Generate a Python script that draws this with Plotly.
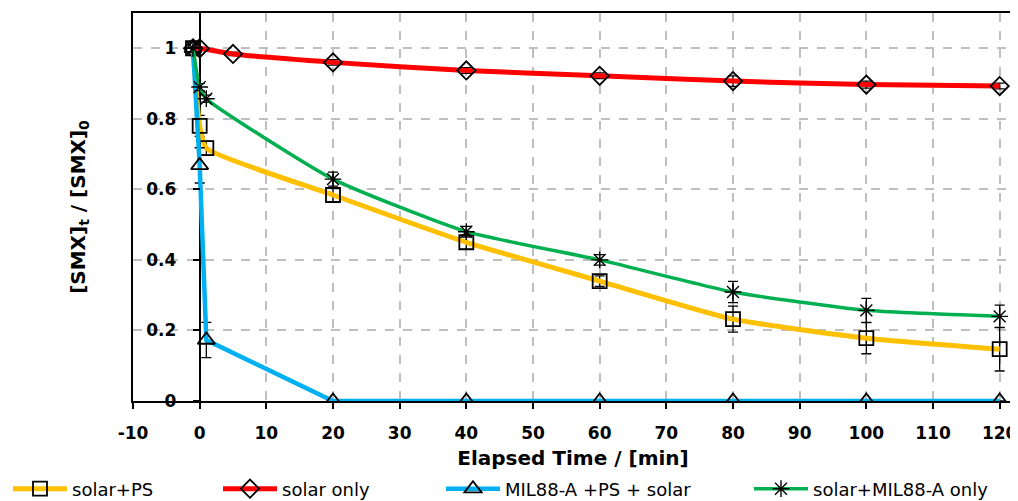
import plotly.graph_objects as go

# ---- data ----
ps_x = [-1, 0, 1, 20, 40, 60, 80, 100, 120]
ps_y = [1.0, 0.78, 0.717, 0.584, 0.45, 0.34, 0.232, 0.178, 0.147]
ps_err = [0, 0.03, 0.02, 0.02, 0.02, 0.015, 0.037, 0.044, 0.062]

solar_x = [-1, 0, 5, 20, 40, 60, 80, 100, 120]
solar_y = [1.0, 1.0, 0.984, 0.96, 0.937, 0.922, 0.907, 0.897, 0.893]
solar_err = [0, 0, 0.005, 0.008, 0.008, 0.008, 0.015, 0.01, 0.008]

mil_ps_x = [-1, 0, 1, 20, 40, 60, 80, 100, 120]
mil_ps_y = [1.0, 0.668, 0.173, 0, 0, 0, 0, 0, 0]
mil_ps_err = [0, 0.05, 0.05, 0, 0, 0, 0, 0, 0]

mil_x = [-1, 0, 1, 20, 40, 60, 80, 100, 120]
mil_y = [1.0, 0.89, 0.857, 0.629, 0.48, 0.40, 0.309, 0.257, 0.24]
mil_err = [0, 0.01, 0.01, 0.02, 0.015, 0.015, 0.03, 0.034, 0.032]

x_ticks = list(range(-10, 121, 10))
x_tick_text = [str(v) for v in x_ticks]  # plain hyphen for "-10"
y_ticks = [0, 0.2, 0.4, 0.6, 0.8, 1]
y_tick_text = ["0", "0.2", "0.4", "0.6", "0.8", "1"]

FONT = "DejaVu Sans"
W, H = 1010, 493  # page body adds an 8px margin

def err(arr):
    return dict(type="data", array=arr, visible=True, color="black",
                thickness=1.3, width=5)

fig = go.Figure()
fig.add_trace(go.Scatter(
    x=ps_x, y=ps_y, name="solar+PS", mode="lines+markers", legend="legend",
    line=dict(color="#FFC000", width=5, shape="spline", smoothing=0.5),
    marker=dict(symbol="square-open", size=14, color="black", line=dict(width=1.8)),
    error_y=err(ps_err)))
fig.add_trace(go.Scatter(
    x=solar_x, y=solar_y, name="solar only", mode="lines+markers", legend="legend2",
    line=dict(color="#FF0000", width=5, shape="spline", smoothing=0.5),
    marker=dict(symbol="diamond-open", size=14, color="black", line=dict(width=1.8)),
    error_y=err(solar_err)))
fig.add_trace(go.Scatter(
    x=mil_ps_x, y=mil_ps_y, name="MIL88-A +PS + solar", mode="lines+markers",
    legend="legend3",
    line=dict(color="#00B0F0", width=4.5),
    marker=dict(symbol="triangle-up-open", size=15, color="black", line=dict(width=1.8)),
    error_y=err(mil_ps_err)))
fig.add_trace(go.Scatter(
    x=mil_x, y=mil_y, name="solar+MIL88-A only", mode="lines+markers",
    legend="legend4",
    line=dict(color="#00B050", width=3.5, shape="spline", smoothing=0.5),
    marker=dict(symbol="asterisk-open", size=14, color="black", line=dict(width=1.4)),
    error_y=err(mil_err)))

# dummy invisible trace to activate yaxis2
fig.add_trace(go.Scatter(x=[None], y=[None], yaxis="y2", showlegend=False,
                         hoverinfo="skip"))

def leg(xpx):
    return dict(orientation="h", xref="container", yref="container",
                x=xpx / W, y=12 / H, xanchor="left", yanchor="middle",
                itemwidth=54,
                font=dict(family=FONT, size=18, color="black"),
                bgcolor="rgba(0,0,0,0)")

fig.update_layout(
    width=W, height=H,
    margin=dict(l=125, r=5, t=5, b=100, autoexpand=False),
    paper_bgcolor="white", plot_bgcolor="white",
    font=dict(family=FONT, size=17, color="black"),
    showlegend=True,
    legend=leg(0), legend2=leg(210), legend3=leg(433), legend4=leg(741),
    xaxis=dict(range=[-10, 122], tickvals=x_ticks, ticktext=x_tick_text,
               tickfont=dict(family=FONT, size=17, color="black", weight="bold"),
               showgrid=True, gridcolor="#BFBFBF", griddash="dash", gridwidth=1.5,
               showline=True, linecolor="black", linewidth=2, mirror=True,
               ticks="outside", ticklen=6, tickcolor="black", tickwidth=1.5,
               ticklabelstandoff=10,
               zeroline=True, zerolinecolor="black", zerolinewidth=1.8,
               title=dict(text="<b>Elapsed Time / [min]</b>", standoff=33,
                          font=dict(family=FONT, size=20, color="black"))),
    yaxis=dict(range=[0, 1.1], tickvals=y_ticks, showticklabels=False,
               showgrid=True, gridcolor="#BFBFBF", griddash="dash", gridwidth=1.5,
               showline=True, linecolor="black", linewidth=2, mirror=True,
               ticks="", zeroline=False,
               title=dict(text="<b>[SMX]<sub>t</sub> / [SMX]<sub>0</sub></b>", standoff=40,
                          font=dict(family=FONT, size=20, color="black"))),
    yaxis2=dict(range=[0, 1.1], tickvals=y_ticks, ticktext=y_tick_text,
                overlaying="y", anchor="free", position=10 / 132, side="left",
                showgrid=False, zeroline=False, showline=False,
                ticks="outside", ticklen=7, tickcolor="black", tickwidth=1.5,
                ticklabelstandoff=13,
                tickfont=dict(family=FONT, size=17, color="black", weight="bold")),
)

fig.write_html("out.html")
